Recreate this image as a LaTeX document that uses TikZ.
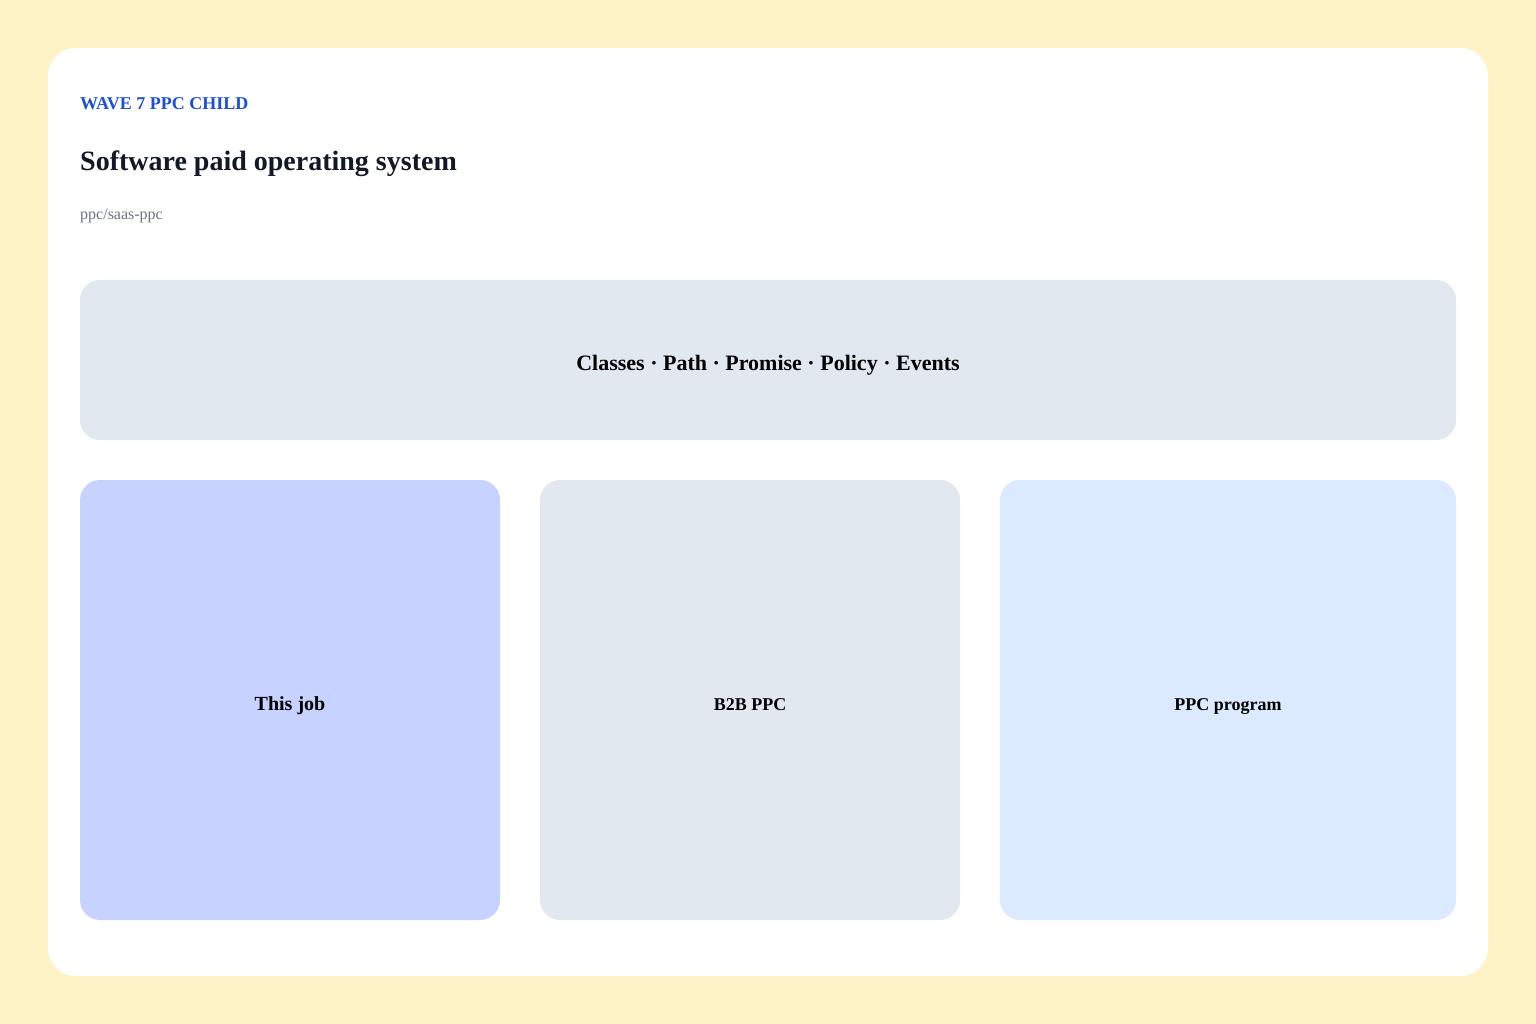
\documentclass[tikz,border=0pt]{standalone}
\usepackage{fontspec}
\setmainfont{Liberation Serif}
\definecolor{bgc}{HTML}{FEF3C7}
\definecolor{boxgray}{HTML}{E2E8F0}
\definecolor{boxindigo}{HTML}{C7D2FE}
\definecolor{boxblue}{HTML}{DBEAFE}
\definecolor{kickc}{HTML}{1D4ED8}
\definecolor{titlec}{HTML}{111827}
\definecolor{subc}{HTML}{6B7280}
\begin{document}
\begin{tikzpicture}[x=1pt,y=-1pt,
  panel/.style={rounded corners=20pt,draw=none},
  lbl/.style={anchor=base,inner sep=0,font=\bfseries\fontsize{18}{22}\selectfont,text=black}]
\useasboundingbox (0,0) rectangle (1536,1024);
\fill[bgc] (0,0) rectangle (1536,1024);
\fill[white,rounded corners=28pt] (48,48) rectangle (1488,976);
\node[anchor=base west,inner sep=0,text=kickc,font=\bfseries\fontsize{18}{21}\selectfont] (kick) at (80,110) {WAVE 7 PPC CHILD};
\node[anchor=base west,inner sep=0,text=titlec,font=\bfseries\fontsize{28}{32}\selectfont] (title) at (80,171) {Software paid operating system};
\node[anchor=base west,inner sep=0,text=subc,font=\fontsize{16}{19}\selectfont] (sub) at (80,220) {ppc/saas-ppc};
\fill[boxgray,panel] (80,280) rectangle (1456,440);
\node[lbl,font=\bfseries\fontsize{22}{26}\selectfont] (core) at (768,370) {Classes · Path · Promise · Policy · Events};
\fill[boxindigo,panel] (80,480) rectangle (500,920);
\node[lbl,font=\bfseries\fontsize{20}{24}\selectfont] (job) at (290,710) {This job};
\fill[boxgray,panel] (540,480) rectangle (960,920);
\node[lbl] (b2b) at (750,710) {B2B PPC};
\fill[boxblue,panel] (1000,480) rectangle (1456,920);
\node[lbl] (prog) at (1228,710) {PPC program};
\end{tikzpicture}
\end{document}
